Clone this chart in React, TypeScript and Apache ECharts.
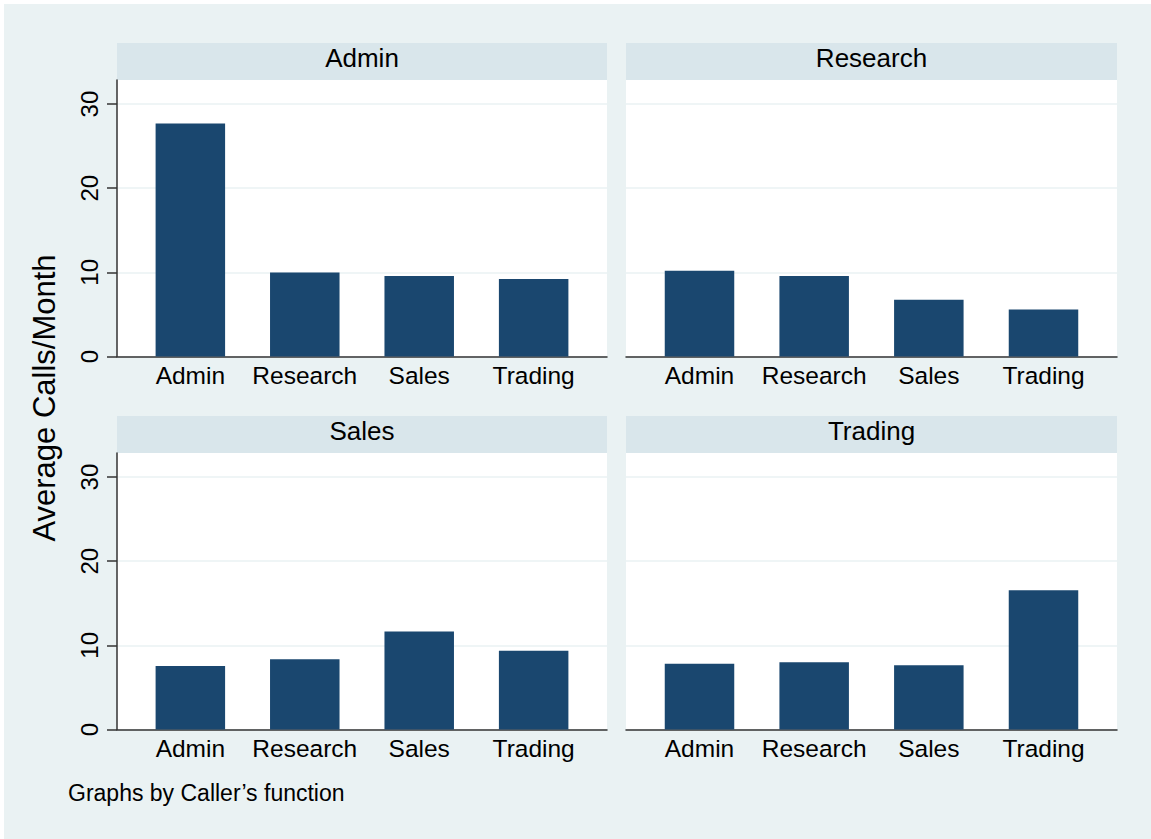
import React, { useEffect, useRef } from "react";
import * as echarts from "echarts";

const categories = ["Admin", "Research", "Sales", "Trading"];
const panelTitles = ["Admin", "Research", "Sales", "Trading"];
const catPositions = [1, 2, 3, 4];
const yTicks = [0, 10, 20, 30];

const adminCalls = [27.7, 9.98, 9.56, 9.2];
const researchCalls = [10.2, 9.58, 6.73, 5.58];
const salesCalls = [7.55, 8.35, 11.65, 9.35];
const tradingCalls = [7.8, 8.0, 7.65, 16.55];

const panelValues = [adminCalls, researchCalls, salesCalls, tradingCalls];

const FONT = "'Liberation Sans', Arial, Helvetica, sans-serif";
const BAR = "#1a476f";
const BG = "#eaf2f3";
const HEAD = "#d9e6eb";
const AXIS = "#333333";

const panels = [
  { x: 117, y: 80, w: 490, h: 276.5, left: true },
  { x: 626, y: 80, w: 491, h: 276.5, left: false },
  { x: 117, y: 453, w: 490, h: 276.5, left: true },
  { x: 626, y: 453, w: 491, h: 276.5, left: false },
];
const HEADER_H = 37;

export default function App() {
  const ref = useRef<HTMLDivElement>(null);

  useEffect(() => {
    document.body.style.margin = "0";
    if (!ref.current) return;
    const chart = echarts.init(ref.current, undefined, { renderer: "svg" });

    const grid = panels.map((p) => ({
      left: p.x,
      top: p.y,
      width: p.w,
      height: p.h,
      show: true,
      backgroundColor: "#ffffff",
      borderWidth: 0,
    }));

    const xAxis = panels.map((p, i) => ({
      type: "value",
      gridIndex: i,
      min: 0.359,
      max: 4.641,
      splitLine: { show: false },
      axisTick: { show: false },
      axisLine: { show: true, onZero: false, lineStyle: { color: AXIS, width: 1.5 } },
      axisLabel: {
        customValues: catPositions,
        formatter: (v: number) => categories[Math.round(v) - 1] ?? "",
        fontSize: 24.5,
        color: "#000",
        margin: 6,
        fontFamily: FONT,
      },
    }));

    const yAxis = panels.map((p, i) => ({
      type: "value",
      gridIndex: i,
      min: 0,
      max: 32.86,
      interval: 10,
      axisLine: { show: p.left, onZero: false, lineStyle: { color: AXIS, width: 1.5 } },
      axisTick: {
        show: p.left,
        length: 10,
        customValues: yTicks,
        lineStyle: { color: AXIS, width: 1.5 },
      },
      axisLabel: {
        show: p.left,
        customValues: yTicks,
        rotate: 90,
        fontSize: 24,
        color: "#000",
        margin: 16,
        fontFamily: FONT,
      },
      splitLine: { show: true, lineStyle: { color: BG, width: 1.5 } },
    }));

    const series = panelValues.map((vals, i) => ({
      type: "bar",
      xAxisIndex: i,
      yAxisIndex: i,
      barWidth: 69.5,
      itemStyle: { color: BAR },
      data: vals.map((v, j) => [catPositions[j], v]),
    }));

    const graphic: any[] = [
      { type: "rect", shape: { x: 0, y: 0, width: 1151, height: 4 }, style: { fill: "#ffffff" } },
      { type: "rect", shape: { x: 0, y: 0, width: 4, height: 839 }, style: { fill: "#ffffff" } },
    ];
    panels.forEach((p, i) => {
      graphic.push({
        type: "rect",
        shape: { x: p.x, y: p.y - HEADER_H, width: p.w, height: HEADER_H },
        style: { fill: HEAD },
      });
      graphic.push({
        type: "text",
        x: p.x + p.w / 2,
        y: p.y - HEADER_H / 2 - 3.5,
        style: {
          text: panelTitles[i],
          fontSize: 26,
          fontFamily: FONT,
          fill: "#000",
          align: "center",
          verticalAlign: "middle",
        },
      });
    });
    graphic.push({
      type: "text",
      x: 44,
      y: 398,
      rotation: Math.PI / 2,
      style: {
        text: "Average Calls/Month",
        fontSize: 31,
        fontFamily: FONT,
        fill: "#000",
        align: "center",
        verticalAlign: "middle",
      },
    });
    graphic.push({
      type: "text",
      x: 68,
      y: 793,
      style: {
        text: "Graphs by Caller\u2019s function",
        fontSize: 23,
        fontFamily: FONT,
        fill: "#000",
        align: "left",
        verticalAlign: "middle",
      },
    });

    chart.setOption({
      animation: false,
      backgroundColor: BG,
      grid,
      xAxis,
      yAxis,
      series,
      graphic,
    } as any);

    return () => chart.dispose();
  }, []);

  return (
    <div
      ref={ref}
      style={{ position: "absolute", left: 0, top: 0, width: 1151, height: 839 }}
    />
  );
}
